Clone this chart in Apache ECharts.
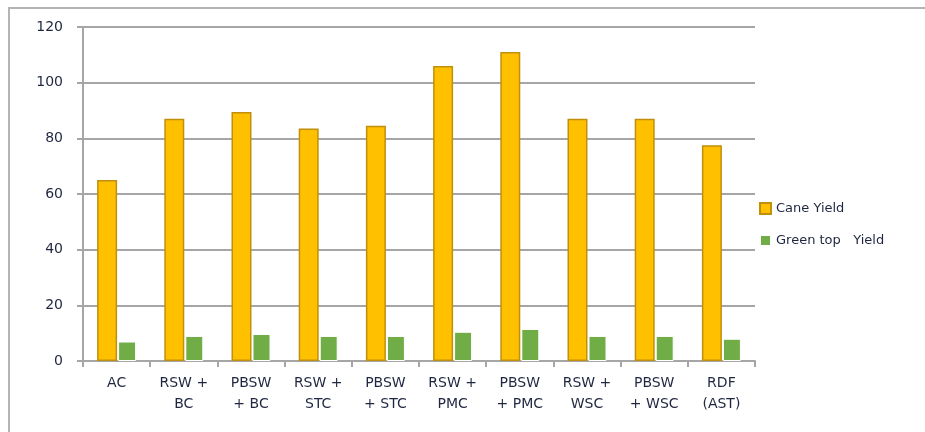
<!DOCTYPE html>
<html>
<head>
<meta charset="utf-8">
<script src="https://cdn.jsdelivr.net/npm/echarts@6/dist/echarts.min.js"></script>
<style>
  html, body { margin: 0; padding: 0; background: #fff; }
  #chart { width: 925px; height: 432px; }
</style>
</head>
<body>
<div id="chart"></div>
<script>
// categories on the x axis
const categories = [
  "AC", "RSW +\nBC", "PBSW\n+ BC", "RSW +\nSTC", "PBSW\n+ STC",
  "RSW +\nPMC", "PBSW\n+ PMC", "RSW +\nWSC", "PBSW\n+ WSC", "RDF\n(AST)"
];
// values
const caneYield = [65, 87, 89.5, 83.5, 84.5, 106, 111, 87, 87, 77.5];
const greenTopYield = [7, 9, 9.7, 9, 9, 10.5, 11.5, 9, 9, 8];
const yTicks = { min: 0, max: 120, interval: 20 };

const textColor = "#1f2640";
const gridColor = "#a6a6a6";

const chart = echarts.init(document.getElementById("chart"));

chart.setOption({
  animation: false,
  backgroundColor: "#fff",
  textStyle: { fontFamily: "DejaVu Sans" },
  // outer frame: only top and left edges show in the picture
  graphic: [
    {
      type: "polyline",
      shape: { points: [[9, 432], [9, 8], [925, 8]] },
      style: { fill: "none", stroke: "#b4b4b4", lineWidth: 2 },
      silent: true
    }
  ],
  grid: { left: 83, right: 170, top: 27, bottom: 71, containLabel: false },
  legend: {
    orient: "vertical",
    left: 754,
    top: 197,
    itemWidth: 11,
    itemHeight: 11,
    itemGap: 19,
    icon: "rect",
    textStyle: { color: textColor, fontSize: 13, fontFamily: "DejaVu Sans" },
    data: ["Cane Yield", "Green top   Yield"]
  },
  xAxis: {
    type: "category",
    data: categories,
    axisLine: { lineStyle: { color: gridColor, width: 2 } },
    axisTick: { show: true, length: 6, lineStyle: { color: gridColor, width: 2 } },
    axisLabel: {
      color: textColor,
      fontSize: 14,
      lineHeight: 21,
      margin: 12,
      interval: 0
    }
  },
  yAxis: {
    type: "value",
    min: yTicks.min,
    max: yTicks.max,
    interval: yTicks.interval,
    axisLine: { show: true, lineStyle: { color: gridColor, width: 2 } },
    axisTick: { show: true, length: 6, lineStyle: { color: gridColor, width: 2 } },
    axisLabel: { color: textColor, fontSize: 14, margin: 20 },
    splitLine: { lineStyle: { color: gridColor, width: 2 } }
  },
  series: [
    {
      name: "Cane Yield",
      type: "bar",
      data: caneYield,
      barWidth: 20,
      barGap: "5%",
      itemStyle: { color: "#ffc000", borderColor: "#c0900c", borderWidth: 1.5 }
    },
    {
      name: "Green top   Yield",
      type: "bar",
      data: greenTopYield,
      barWidth: 18,
      itemStyle: { color: "#70ad47", borderColor: "#ffffff", borderWidth: 1 }
    }
  ]
});
</script>
</body>
</html>
